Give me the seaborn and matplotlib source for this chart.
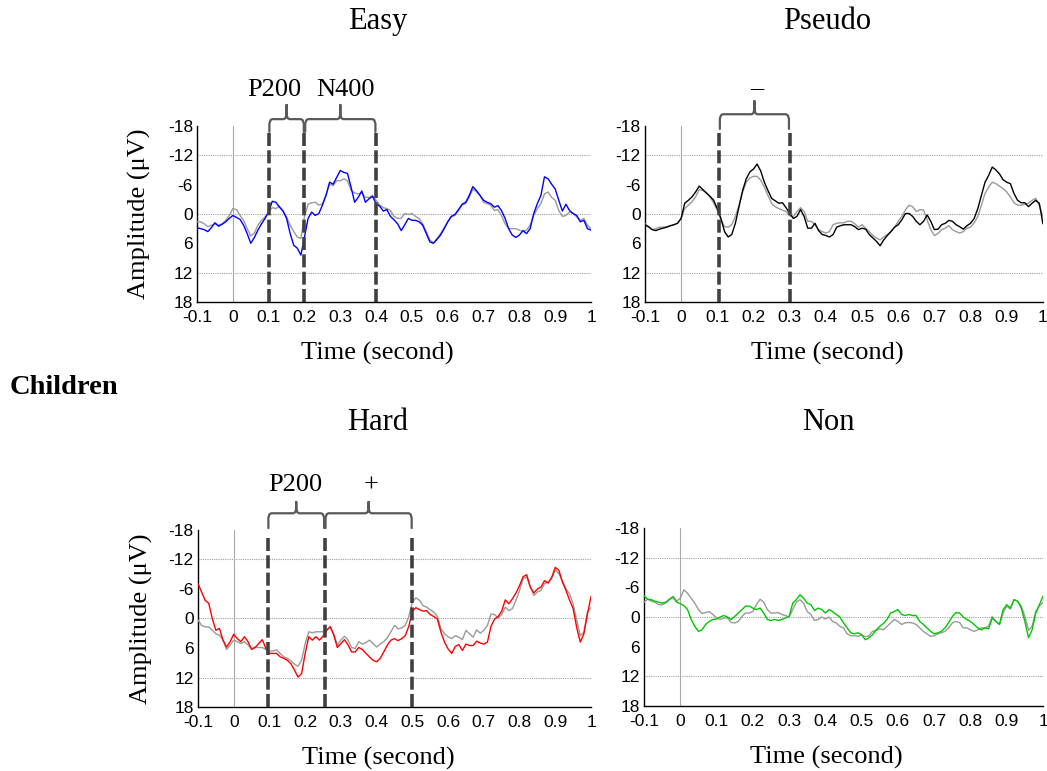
import numpy as np
import pandas as pd
import seaborn as sns
import matplotlib.pyplot as plt

# sample times (s), 10 ms steps
time = np.round(np.arange(-0.1, 1.0001, 0.01), 2)

# amplitudes in microvolts (negative plotted up)
easy_blue = [2.8, 3.0, 3.2, 3.6, 2.8, 1.8, 2.5, 2.1, 1.6, 0.9,
             0.3, 0.7, 1.1, 2.3, 4.0, 6.0, 4.8, 3.3, 2.0, 0.9,
             -0.4, -2.6, -2.4, -1.4, -0.6, 0.9, 4.0, 6.4, 7.0, 8.4,
             4.7, 0.9, -0.4, 0.3, -0.1, -1.8, -3.8, -6.5, -6.1, -7.5,
             -8.9, -8.5, -8.3, -5.5, -2.4, -3.4, -4.7, -2.4, -3.1, -3.6,
             -2.1, -1.6, -0.6, -0.9, 0.5, 1.2, 2.0, 3.4, 2.2, 0.9,
             1.3, 1.3, 1.6, 2.3, 4.0, 5.7, 6.0, 5.2, 4.3, 3.0,
             1.6, 0.5, 0.1, -0.9, -2.0, -2.4, -3.8, -5.6, -4.8, -3.8,
             -2.8, -2.4, -2.1, -1.4, -1.7, -0.7, 0.9, 3.0, 4.3, 4.8,
             4.3, 3.4, 4.0, 3.0, -0.1, -2.1, -3.8, -7.6, -7.2, -6.1,
             -5.1, -2.8, -0.6, -2.0, -0.7, -0.1, 0.3, 1.6, 1.3, 3.0,
             3.3]
easy_gray = [1.6, 1.6, 2.0, 2.6, 2.3, 2.0, 2.3, 2.0, 1.3, 0.3,
             -1.1, -0.9, 0.3, 1.3, 3.0, 4.5, 3.9, 2.3, 1.3, 0.6,
             -0.4, -1.3, -1.1, -1.6, -0.7, 0.6, 2.3, 3.6, 4.7, 5.0,
             0.5, -2.0, -2.3, -2.4, -1.8, -2.1, -3.8, -6.1, -5.8, -6.8,
             -6.8, -7.2, -6.8, -4.8, -4.3, -4.1, -4.3, -3.4, -3.4, -3.8,
             -2.8, -1.8, -1.3, -1.1, -0.7, 0.5, 0.9, 0.9, -0.1, 0.1,
             -0.1, 0.5, 0.9, 2.0, 3.6, 5.3, 5.9, 5.0, 4.0, 2.8,
             1.6, 0.5, 0.3, -0.7, -1.8, -2.1, -3.4, -5.1, -4.5, -3.8,
             -2.4, -2.1, -1.8, -0.7, -0.9, 0.3, 2.0, 3.0, 3.0, 3.0,
             3.3, 3.6, 3.3, 2.3, 0.3, -1.1, -2.1, -4.1, -4.5, -3.4,
             -2.8, -0.7, 0.5, 0.3, -0.4, -0.1, 0.6, 1.3, 0.9, 2.3,
             3.0]
pseudo_black = [2.2, 2.6, 3.2, 3.4, 3.1, 2.9, 2.7, 2.4, 2.2, 1.9,
                0.9, -2.2, -2.8, -3.5, -4.5, -5.7, -5.0, -4.3, -3.6, -2.8,
                -1.1, 0.9, 3.6, 4.7, 4.2, 1.9, -1.5, -4.8, -7.2, -8.6,
                -9.2, -10.2, -8.8, -6.5, -4.8, -3.2, -2.7, -2.2, -2.3, -1.3,
                -0.1, 0.9, 0.5, -0.9, 0.5, 2.9, 2.9, 1.9, 3.4, 4.2,
                4.4, 4.7, 4.2, 2.7, 2.4, 2.2, 2.2, 2.2, 2.6, 3.2,
                2.9, 3.1, 4.2, 4.9, 5.6, 6.5, 5.3, 4.4, 3.6, 2.7,
                2.2, 1.2, -0.1, -0.1, 0.5, 1.5, 2.2, 1.5, 0.2, 1.5,
                3.2, 3.1, 2.2, 1.9, 1.3, 1.5, 2.2, 2.6, 3.1, 2.4,
                1.9, 0.9, -1.1, -3.8, -6.5, -7.9, -9.6, -9.0, -8.2, -7.0,
                -6.5, -6.2, -4.2, -2.8, -2.3, -2.3, -1.5, -2.2, -2.8, -2.2,
                2.0]
pseudo_gray = [2.0, 2.7, 3.2, 3.0, 2.7, 2.7, 2.6, 2.4, 2.2, 1.9,
               0.9, -1.1, -1.8, -2.5, -3.5, -5.0, -4.8, -4.3, -3.5, -2.2,
               -0.8, 1.2, 2.6, 2.7, 2.2, 0.5, -1.8, -4.5, -6.5, -7.4,
               -7.7, -7.7, -6.9, -5.5, -3.8, -2.2, -1.5, -1.1, -0.8, -0.5,
               0.4, 0.5, -0.5, -1.3, -0.5, 1.5, 1.5, 2.2, 3.2, 3.6,
               3.9, 3.6, 2.2, 1.9, 1.8, 1.8, 1.5, 1.5, 2.0, 2.7,
               2.2, 2.9, 3.6, 4.4, 4.9, 5.3, 4.7, 4.2, 3.6, 2.7,
               1.5, 0.5, -0.8, -1.8, -1.5, -0.5, -0.9, -0.8, 1.2, 3.2,
               4.4, 4.0, 3.2, 2.9, 2.4, 3.2, 3.6, 3.9, 3.6, 2.9,
               2.7, 1.8, 0.5, -1.8, -4.2, -5.5, -6.5, -6.2, -5.7, -5.2,
               -4.5, -3.5, -2.3, -1.8, -1.8, -2.0, -2.2, -2.8, -3.2, -1.8,
               0.5]
hard_red = [-7.1, -5.4, -3.7, -3.1, 0.0, 2.4, 2.0, 4.4, 5.8, 4.7,
            3.2, 4.1, 4.7, 3.7, 4.7, 6.3, 5.9, 5.1, 4.3, 6.1,
            7.1, 7.1, 7.1, 7.8, 8.1, 8.5, 9.2, 10.5, 11.9, 11.2,
            7.1, 3.7, 4.4, 3.7, 4.4, 3.6, 2.4, 1.7, 3.4, 5.9,
            5.1, 4.3, 5.4, 6.8, 6.8, 5.9, 6.3, 7.1, 7.8, 8.5,
            8.8, 8.1, 6.8, 5.4, 4.4, 4.1, 4.5, 4.1, 3.5, 1.6,
            -1.5, -2.2, -1.8, -1.5, -1.6, -0.8, -0.4, 0.1, 2.8, 4.8,
            6.2, 7.1, 5.7, 5.3, 6.5, 5.2, 5.5, 5.5, 4.6, 5.0,
            5.2, 4.8, 1.6, 0.1, -0.4, -1.5, -3.8, -3.0, -4.0, -5.2,
            -6.7, -8.5, -8.9, -6.4, -5.2, -6.0, -6.4, -7.7, -7.2, -8.4,
            -10.4, -9.8, -7.4, -5.7, -3.7, -2.0, 1.9, 4.8, 3.1, -0.9,
            -4.5]
hard_gray = [0.3, 1.4, 1.7, 1.7, 2.4, 3.1, 3.4, 4.4, 6.3, 5.4,
             4.4, 4.7, 5.1, 4.7, 5.4, 6.1, 5.8, 5.9, 5.9, 6.3,
             6.6, 6.6, 6.4, 7.1, 7.8, 8.1, 8.6, 9.3, 9.7, 8.5,
             5.1, 2.7, 2.9, 2.7, 2.7, 2.7, 2.4, 1.6, 3.1, 5.4,
             4.4, 3.6, 4.4, 5.9, 6.1, 4.7, 5.2, 4.9, 4.4, 5.1,
             5.8, 5.2, 4.7, 3.9, 2.7, 1.4, 2.1, 1.9, 1.4, -0.4,
             -3.3, -4.2, -3.7, -2.6, -2.3, -1.8, -1.3, -0.4, 2.1, 3.1,
             3.7, 4.1, 3.5, 3.8, 4.3, 2.4, 3.1, 3.8, 2.3, 3.0,
             2.4, 1.4, -0.9, -0.8, -0.1, -0.8, -2.3, -1.6, -2.0, -3.7,
             -5.7, -8.1, -8.4, -6.4, -4.7, -5.4, -5.7, -7.1, -7.4, -8.1,
             -9.9, -9.1, -7.7, -6.0, -5.0, -3.0, 0.4, 3.5, 2.8, -1.3,
             -2.3]
non_green = [-4.3, -3.6, -3.5, -3.2, -3.0, -2.8, -3.0, -3.6, -4.0, -3.0,
             -2.7, -2.3, -1.5, 0.5, 1.9, 2.9, 2.6, 1.5, 0.9, 0.5,
             0.4, 0.0, -0.3, 0.0, 0.5, -0.1, -0.8, -1.5, -2.2, -2.2,
             -1.8, -1.5, -1.8, -0.8, 0.5, 0.7, 0.5, 0.7, 0.5, 0.2,
             -0.1, -2.8, -3.5, -4.5, -3.8, -2.8, -2.5, -1.3, -1.8, -1.5,
             -0.8, -1.5, -1.1, -0.5, 0.0, 1.2, 2.2, 3.2, 3.4, 3.2,
             3.6, 4.6, 4.2, 3.6, 2.6, 1.9, 1.3, 0.5, -0.8, -1.1,
             -1.5, -0.5, -0.3, -0.5, -0.3, -0.3, 0.9, 1.5, 2.2, 2.9,
             3.4, 3.2, 2.9, 2.2, 1.1, -0.1, -0.9, -0.8, 0.0, 0.5,
             0.9, 1.5, 2.2, 2.6, 2.2, 2.4, 0.2, 0.9, 1.5, -1.5,
             -2.5, -1.8, -3.5, -3.2, -1.8, 0.9, 4.2, 2.6, -0.8, -2.5,
             -4.2]
non_gray = [-3.0, -3.6, -3.2, -3.0, -2.5, -2.5, -2.8, -3.5, -4.2, -3.2,
            -3.8, -5.5, -4.8, -3.8, -2.8, -1.5, -0.7, -0.9, -1.1, -0.5,
            0.2, 0.5, 0.2, 0.2, 1.1, 1.2, 0.9, -0.1, -0.8, -0.8,
            -1.1, -2.5, -3.6, -3.0, -1.5, -0.8, -0.8, -0.9, -0.5, -0.3,
            0.0, -1.5, -3.0, -3.5, -2.8, -1.1, -0.5, 0.7, 0.5, 0.0,
            0.4, 0.0, 0.9, 1.2, 1.9, 2.2, 3.4, 3.8, 3.8, 3.9,
            3.6, 4.0, 3.8, 2.9, 2.7, 2.4, 2.6, 1.9, 1.2, 0.5,
            0.9, 1.5, 1.2, 1.1, 1.2, 1.5, 2.2, 2.9, 3.4, 3.9,
            3.8, 3.4, 3.2, 2.9, 2.2, 1.2, 0.9, 1.1, 2.2, 2.2,
            2.6, 2.9, 2.6, 2.2, 2.2, 1.9, -0.1, 0.9, 1.5, -0.8,
            -2.2, -1.6, -3.5, -3.2, -2.2, -0.1, 2.7, 1.9, -1.1, -2.2,
            -3.0]

x_ticks = [-0.1, 0, 0.1, 0.2, 0.3, 0.4, 0.5, 0.6, 0.7, 0.8, 0.9, 1.0]
x_tick_labels = ["-0.1", "0", "0.1", "0.2", "0.3", "0.4", "0.5", "0.6",
                 "0.7", "0.8", "0.9", "1"]
y_ticks = [-18, -12, -6, 0, 6, 12, 18]
y_tick_labels = ["-18", "-12", "-6", "0", "6", "12", "18"]

# analysis windows: (start, end, label, label x)
easy_windows = [(0.1, 0.2, "P200", 0.115), (0.2, 0.4, "N400", 0.313)]
pseudo_windows = [(0.105, 0.3, "\u2013", 0.208)]
hard_windows = [(0.095, 0.255, "P200", 0.173), (0.255, 0.5, "+", 0.383)]
non_windows = []

panels = [
    dict(title="Easy", color="#0000ff", test=easy_blue, ctrl=easy_gray,
         windows=easy_windows, pos=[0.1882, 0.6083, 0.3763, 0.2283],
         title_xy=(0.361, 0.972), ylabel=True,
         brace=dict(hook=-16.8, bar=-19.4, tip=-22.3, text=-25.4)),
    dict(title="Pseudo", color="#000000", test=pseudo_black, ctrl=pseudo_gray,
         windows=pseudo_windows, pos=[0.6160, 0.6083, 0.3801, 0.2283],
         title_xy=(0.790, 0.972), ylabel=False,
         brace=dict(hook=-17.4, bar=-20.4, tip=-23.1, text=-25.8)),
    dict(title="Hard", color="#ff0000", test=hard_red, ctrl=hard_gray,
         windows=hard_windows, pos=[0.1891, 0.0830, 0.3754, 0.2296],
         title_xy=(0.361, 0.452), ylabel=True,
         brace=dict(hook=-18.4, bar=-21.4, tip=-23.7, text=-27.1)),
    dict(title="Non", color="#00c800", test=non_green, ctrl=non_gray,
         windows=non_windows, pos=[0.6151, 0.0843, 0.3811, 0.2309],
         title_xy=(0.791, 0.452), ylabel=False,
         brace=None),
]

sns.set_style("white")
plt.rcParams['font.family'] = ['Liberation Serif', 'DejaVu Serif']
plt.rcParams['text.color'] = 'black'
plt.rcParams['axes.labelcolor'] = 'black'

fig = plt.figure(figsize=(10.47, 7.71), dpi=100)

brace_col = "#595959"
dash_col = "#404040"


def draw_brace(ax, x1, x2, b):
    xm = (x1 + x2) / 2
    r = 0.008
    xs = [x1, x1, x1 + r * 0.4, x1 + r, xm - r, xm - r * 0.4, xm, xm,
          xm, xm + r * 0.4, xm + r, x2 - r, x2 - r * 0.4, x2, x2]
    ys = [b["hook"], b["bar"] + 0.9, b["bar"] + 0.2, b["bar"], b["bar"],
          b["bar"] - 0.2, b["bar"] - 0.9, b["tip"], b["bar"] - 0.9,
          b["bar"] - 0.2, b["bar"], b["bar"], b["bar"] + 0.2, b["bar"] + 0.9,
          b["hook"]]
    ax.plot(xs, ys, color=brace_col, lw=1.6, clip_on=False,
            solid_capstyle="round", solid_joinstyle="round", zorder=6)


for p in panels:
    ax = fig.add_axes(p["pos"])
    df = pd.DataFrame({
        "time": np.concatenate([time, time]),
        "amp": np.concatenate([p["ctrl"], p["test"]]),
        "cond": ["ctrl"] * len(time) + ["test"] * len(time),
    })
    # reference grid lines
    for gy in [-12, 0, 12]:
        ax.axhline(gy, color="#a0a0a0", lw=0.8, ls=(0, (1, 1)), zorder=1)
    ax.axvline(0, color="#a8a8a8", lw=0.8, zorder=1)

    sns.lineplot(data=df, x="time", y="amp", hue="cond",
                 palette={"ctrl": "#9a9a9a", "test": p["color"]},
                 hue_order=["ctrl", "test"], linewidth=1.0,
                 legend=False, ax=ax, zorder=3)

    ax.set_xlim(-0.1, 1.0)
    ax.set_ylim(18, -18)
    ax.set_xticks(x_ticks)
    ax.set_xticklabels(x_tick_labels)
    ax.set_yticks(y_ticks)
    ax.set_yticklabels(y_tick_labels)
    ax.tick_params(direction="in", length=4, width=0.8, labelsize=12.5,
                   colors="black")
    ax.tick_params(axis="x", pad=6)
    ax.tick_params(axis="y", pad=3)
    for lbl in ax.get_xticklabels() + ax.get_yticklabels():
        lbl.set_fontfamily("Liberation Sans")
    for side in ["top", "right"]:
        ax.spines[side].set_visible(False)
    for side in ["left", "bottom"]:
        ax.spines[side].set_color("black")
        ax.spines[side].set_linewidth(1.0)

    ax.set_xlabel("Time (second)", fontsize=19)
    ax.xaxis.set_label_coords(0.458, -0.29)
    ax.xaxis.label.set_va("center")
    if p["ylabel"]:
        ax.set_ylabel("Amplitude (\u03bcV)", fontsize=19)
        ax.yaxis.set_label_coords(-0.145, 0.5)
        ax.yaxis.label.set_va("center")
    else:
        ax.set_ylabel("")

    # analysis windows: dashed bounds and braces
    bounds = sorted(set([w[0] for w in p["windows"]] + [w[1] for w in p["windows"]]))
    for bx in bounds:
        ax.plot([bx, bx], [18, -16.9], color=dash_col, lw=2.6,
                ls=(0, (3.6, 1.2)), zorder=5, clip_on=False)
    for (x1, x2, lab, lx) in p["windows"]:
        draw_brace(ax, x1 + 0.002, x2 - 0.002, p["brace"])
        ax.text(lx, p["brace"]["text"], lab, ha="center",
                va="center", fontsize=19, clip_on=False)

    fig.text(p["title_xy"][0], p["title_xy"][1], p["title"], ha="center",
             va="center", fontsize=22)

fig.text(0.009, 0.497, "Children", ha="left", va="center", fontsize=20.5,
         fontweight="bold")

fig.savefig("out.png", dpi=100)
